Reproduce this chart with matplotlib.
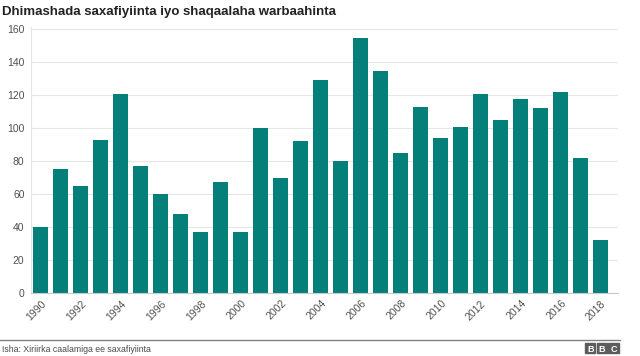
import matplotlib.pyplot as plt
from matplotlib.patches import Rectangle

years = list(range(1990, 2019))
deaths = [40, 75, 65, 93, 121, 77, 60, 48, 37, 67, 37, 100, 70, 92, 129,
          80, 155, 135, 85, 113, 94, 101, 121, 105, 118, 112, 122, 82, 32]
yticks = [0, 20, 40, 60, 80, 100, 120, 140, 160]
xtick_years = list(range(1990, 2019, 2))

title = 'Dhimashada saxafiyiinta iyo shaqaalaha warbaahinta'
source = 'Isha: Xiriirka caalamiga ee saxafiyiinta'

plt.rcParams['font.family'] = ['Liberation Sans', 'DejaVu Sans']

fig = plt.figure(figsize=(6.4, 3.56), dpi=100)
ax = fig.add_axes([0.0492, 0.1775, 0.9164, 0.7465])

ax.bar(years, deaths, width=0.75, color='#057f7a', zorder=3)

ax.set_xlim(1990 - 0.47, 2018 + 0.86)
ax.set_ylim(0, 161.4)
ax.set_yticks(yticks)
ax.set_xticks(xtick_years)
ax.set_xticklabels([str(y) for y in xtick_years], rotation=45, ha='right',
                   rotation_mode='anchor')
ax.tick_params(axis='y', length=0, pad=5, labelsize=7.5, labelcolor='#505050')
ax.tick_params(axis='x', length=0, pad=4, labelsize=7.5, labelcolor='#505050')

ax.grid(axis='y', color='#e6e6e6', linewidth=0.8, zorder=0)
for s in ['top', 'right']:
    ax.spines[s].set_visible(False)
ax.spines['left'].set_color('#e6e6e6')
ax.spines['left'].set_linewidth(0.8)
ax.spines['bottom'].set_color('#c8c8c8')
ax.spines['bottom'].set_linewidth(0.8)
ax.spines['bottom'].set_zorder(4)

fig.text(0.003, 0.966, title, fontsize=9.5, fontweight='bold', color='#222222',
         va='center', ha='left')

# footer line, source and logo
fig.add_artist(plt.Line2D([0, 0.968], [1 - 340 / 356, 1 - 340 / 356],
                          color='#808080', linewidth=1.0))
fig.text(0.003, 1 - 349 / 356, source, fontsize=6.3, color='#4a4a4a',
         va='center', ha='left')

for i, letter in enumerate('BBC'):
    x0 = (585 + i * 11.7) / 640
    fig.add_artist(Rectangle((x0, 1 - 353 / 356), 10.3 / 640, 10 / 356,
                             transform=fig.transFigure, color='#5c5c5c'))
    fig.text(x0 + 5.15 / 640, 1 - 351.5 / 356, letter, fontsize=6.5,
             fontweight='bold', color='white', ha='center', va='baseline')

fig.savefig('out.png', dpi=100)
